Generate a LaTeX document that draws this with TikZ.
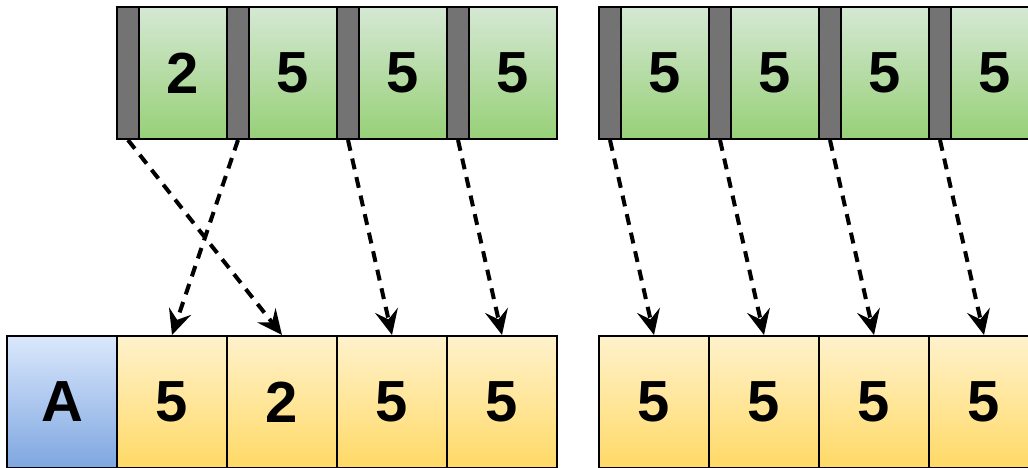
\documentclass[tikz,border=0pt]{standalone}
\usepackage{fontspec}
\setmainfont{Liberation Sans}
\usetikzlibrary{arrows.meta}
\definecolor{gtop}{HTML}{D5E8D4}
\definecolor{gbot}{HTML}{97D077}
\definecolor{ytop}{HTML}{FFF2CC}
\definecolor{ybot}{HTML}{FFD966}
\definecolor{btop}{HTML}{DAE8FC}
\definecolor{bbot}{HTML}{7EA6E0}
\definecolor{bar}{HTML}{737373}
\tikzset{
  cellbase/.style={draw=black, line width=2pt, inner sep=0pt, anchor=north west,
    minimum height=132pt, font=\fontsize{58}{62}\selectfont\bfseries, text=black},
  greencell/.style={cellbase, minimum width=88pt, top color=gtop, bottom color=gbot},
  barcell/.style={cellbase, minimum width=22pt, fill=bar},
  yellowcell/.style={cellbase, minimum width=110pt, top color=ytop, bottom color=ybot},
  bluecell/.style={cellbase, minimum width=110pt, top color=btop, bottom color=bbot},
  link/.style={line width=4pt, dash pattern=on 11pt off 8pt,
    -{Stealth[length=25pt,width=23pt,inset=9pt]}}
}
\begin{document}
\begin{tikzpicture}[x=1pt,y=-1pt]
\useasboundingbox (0,0) rectangle (1028,468);
\fill[white] (0,0) rectangle (1028,468);
\clip (0,0) rectangle (1028,468);
% top row, left group
\node[barcell] (g1) at (116,6) {};
\node[greencell] (t1) at (138,6) {2};
\node[barcell] (g2) at (226,6) {};
\node[greencell] (t2) at (248,6) {5};
\node[barcell] (g3) at (336,6) {};
\node[greencell] (t3) at (358,6) {5};
\node[barcell] (g4) at (446,6) {};
\node[greencell] (t4) at (468,6) {5};
% top row, right group
\node[barcell] (g5) at (598,6) {};
\node[greencell] (t5) at (620,6) {5};
\node[barcell] (g6) at (708,6) {};
\node[greencell] (t6) at (730,6) {5};
\node[barcell] (g7) at (818,6) {};
\node[greencell] (t7) at (840,6) {5};
\node[barcell] (g8) at (928,6) {};
\node[greencell] (t8) at (950,6) {5};
% bottom row
\node[bluecell] (a) at (6,335) {A};
\node[yellowcell] (b1) at (116,335) {5};
\node[yellowcell] (b2) at (226,335) {2};
\node[yellowcell] (b3) at (336,335) {5};
\node[yellowcell] (b4) at (446,335) {5};
\node[yellowcell] (b5) at (598,335) {5};
\node[yellowcell] (b6) at (708,335) {5};
\node[yellowcell] (b7) at (818,335) {5};
\node[yellowcell] (b8) at (928,335) {5};
% connectors
\draw[link] (g1.south) -- (b2.north);
\draw[link] (g2.south) -- (b1.north);
\draw[link] (g3.south) -- (b3.north);
\draw[link] (g4.south) -- (b4.north);
\draw[link] (g5.south) -- (b5.north);
\draw[link] (g6.south) -- (b6.north);
\draw[link] (g7.south) -- (b7.north);
\draw[link] (g8.south) -- (b8.north);
\end{tikzpicture}
\end{document}
